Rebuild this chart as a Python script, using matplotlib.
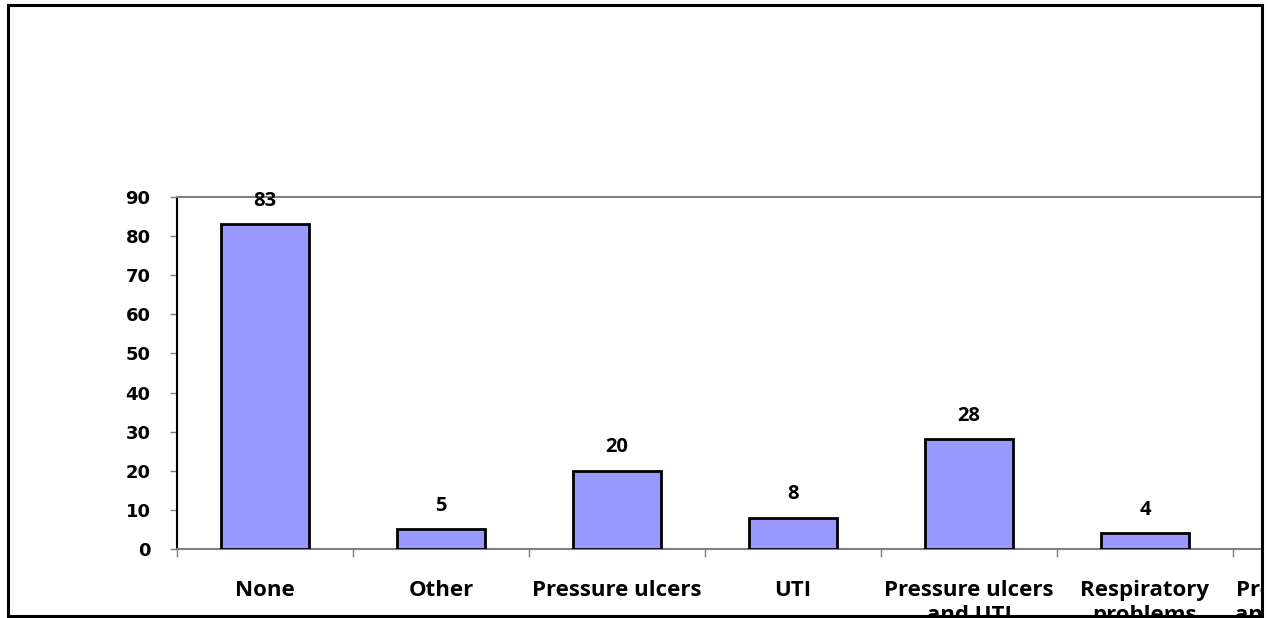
import matplotlib.pyplot as plt
from matplotlib.patches import Rectangle

categories = ['None', 'Other', 'Pressure ulcers', 'UTI', 'Pressure ulcers\nand UTI',
              'Respiratory\nproblems', 'Pressure ulcers\nand respiratory']
counts = [83, 5, 20, 8, 28, 4, 3]
y_ticks = [0, 10, 20, 30, 40, 50, 60, 70, 80, 90]

W, H = 1268, 618
fig = plt.figure(figsize=(W / 100, H / 100), dpi=100)
fig.patch.set_facecolor('white')

# plot area runs past the right edge of the frame (as in the clipped original)
ax = fig.add_axes([177 / W, 1 - 549 / H, 7 * 176 / W, (549 - 197) / H])
x = list(range(len(categories)))
ax.bar(x, counts, width=0.5, color='#9999FF', edgecolor='black', linewidth=2, zorder=3)

for xi, v in zip(x, counts):
    ax.annotate(str(v), (xi, v), xytext=(0, 17), textcoords='offset points',
                ha='center', va='center', fontsize=14.5, fontweight='bold',
                family='Open Sans')

ax.set_xlim(-0.5, len(categories) - 0.5)
ax.set_ylim(0, 90)
ax.set_yticks(y_ticks)
ax.set_yticklabels([str(t) for t in y_ticks], fontsize=13, fontweight='bold',
                   family='DejaVu Sans')
ax.tick_params(axis='y', length=5, width=1, color='#808080', pad=14)

ax.set_xticks(x)
ax.set_xticklabels(categories, fontsize=16, fontweight='bold', family='Open Sans',
                   linespacing=1.3, va='top')
ax.tick_params(axis='x', which='major', length=0, pad=22)
ax.set_xticks([i - 0.5 for i in range(len(categories) + 1)], minor=True)
ax.tick_params(axis='x', which='minor', length=6, width=1, color='#808080')

ax.spines['left'].set_color('black')
ax.spines['left'].set_linewidth(1.5)
for s in ['top', 'bottom', 'right']:
    ax.spines[s].set_color('#808080')
    ax.spines[s].set_linewidth(1.5)

# white mask outside the frame, then the black frame
fig.add_artist(Rectangle((1262 / W, 0), 1, 1, facecolor='white', edgecolor='none',
                         transform=fig.transFigure, zorder=20))
fig.add_artist(Rectangle((0, 0), 1, 2 / H, facecolor='white', edgecolor='none',
                         transform=fig.transFigure, zorder=20))
fig.add_artist(Rectangle((7.5 / W, 1 - 615.5 / H), (1261.5 - 7.5) / W, (615.5 - 4.5) / H,
                         facecolor='none', edgecolor='black', linewidth=2.2,
                         transform=fig.transFigure, zorder=21))

fig.savefig('out.png', dpi=100)
